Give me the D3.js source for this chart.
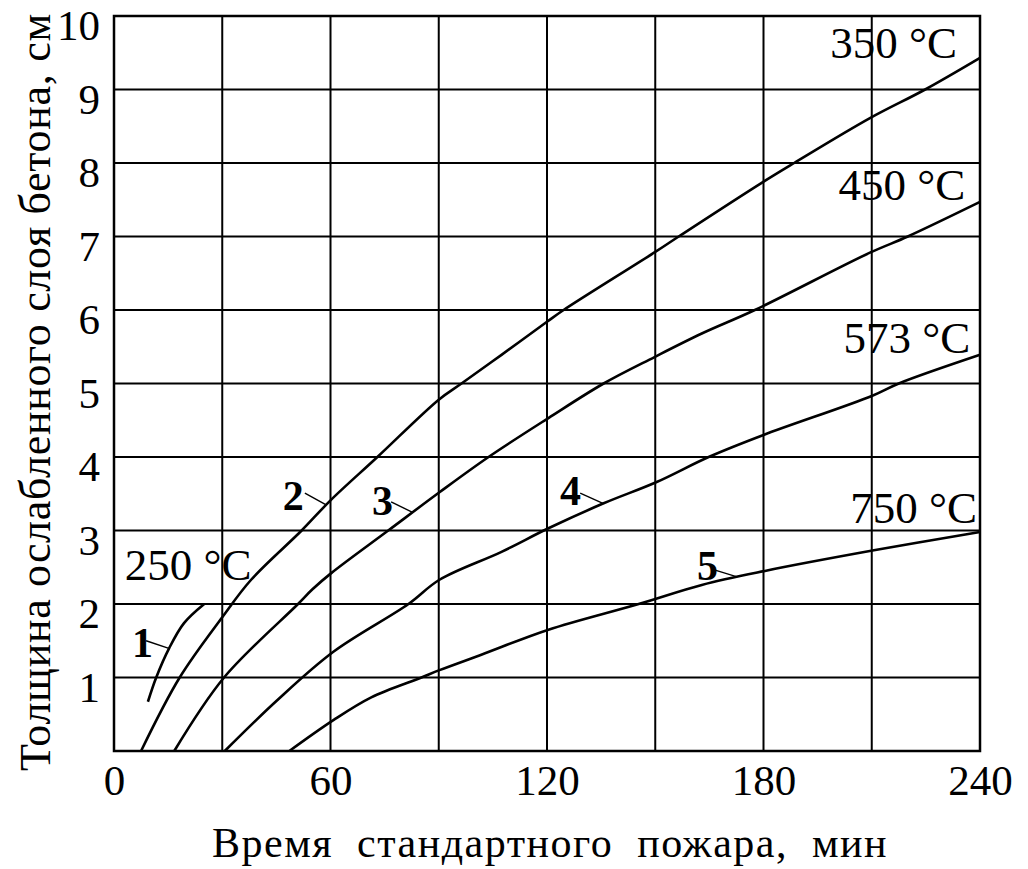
<!DOCTYPE html>
<html><head><meta charset="utf-8">
<script src="https://cdn.jsdelivr.net/npm/d3@7"></script>
<style>body{margin:0;background:#fff}svg{display:block}text{font-family:"Liberation Serif","Times New Roman",serif;fill:#000}</style>
</head><body>
<svg id="c" width="1028" height="869"></svg>
<script>
// ---- data ----
const xTicks = [0, 60, 120, 180, 240];
const xGrid = [0, 30, 60, 90, 120, 150, 180, 210, 240];
const yTicks = [1, 2, 3, 4, 5, 6, 7, 8, 9, 10];
const curveNames = ["1", "2", "3", "4", "5"];
const tempLabels = ["250 °C", "350 °C", "450 °C", "573 °C", "750 °C"];
const curve1 = [[9.4,0.67],[11.7,1.0],[15.3,1.4],[19.4,1.74],[25,2.0]];
const curve2 = [[7.5,0],[18.2,1.0],[30,1.82],[38,2.33],[52,3.0],[60,3.41],[73,4.0],[90,4.78],[96.3,5.0],[107.4,5.39],[120,5.84],[124.6,6.0],[150,6.79],[156.5,7.0],[179.5,7.73],[188.5,8.0],[209.5,8.61],[224.8,9.0],[240,9.43]];
const curve3 = [[16.7,0],[30.5,1.0],[51,2.0],[55,2.2],[60.2,2.42],[76,3.0],[90.2,3.52],[103.8,4.0],[120.4,4.53],[135.7,5.0],[149.8,5.36],[162.9,5.68],[177.6,6.0],[209.5,6.78],[220,7.0],[240,7.47]];
const curve4 = [[30.7,0],[45,0.68],[60.8,1.35],[81.6,2.0],[90.2,2.33],[107.4,2.71],[120.4,3.03],[135.7,3.37],[150.4,3.66],[164.8,4.0],[180,4.3],[210,4.83],[217.5,5.0],[240,5.39]];
const curve5 = [[48.6,0],[60.8,0.42],[71.3,0.73],[85.2,1.0],[90.2,1.10],[101.8,1.31],[120.4,1.65],[145.4,2.0],[162.9,2.26],[180.4,2.45],[210.6,2.73],[240,2.98]];
const curves = [curve1, curve2, curve3, curve4, curve5];
// annotation anchors in data units: [text t, text v, leader from t, v, leader to t, v]
const numberAnchors = [[5.0,1.28,8.9,1.50,15.0,1.40],[46.8,3.28,52.9,3.51,58.8,3.35],[71.5,3.21,76.8,3.39,82.6,3.25],[123.6,3.35,129.2,3.51,135.5,3.37],[161.6,2.33,166.6,2.46,172.7,2.37]];
// temperature label anchors in data units: [t, v, anchor]
const tempAnchors = [[3.0,2.33,"start"],[233.6,9.43,"end"],[235.9,7.50,"end"],[237.3,5.41,"end"],[239.2,3.10,"end"]];
const xTitle = "Время  стандартного  пожара,  мин";
const yTitle = "Толщина ослабленного слоя бетона, см";

// ---- chart ----
const svg = d3.select("#c");
const L = 114, R = 980, T = 16, B = 751;
const x = d3.scaleLinear().domain([0, 240]).range([L, R]);
const y = d3.scaleLinear().domain([0, 10]).range([B, T]);

const g = svg.append("g");
// grid
g.selectAll("line.v").data(xGrid).join("line").attr("class","v")
  .attr("x1", d => x(d)).attr("x2", d => x(d)).attr("y1", T).attr("y2", B)
  .attr("stroke", "#000").attr("stroke-width", 2);
g.selectAll("line.h").data(yTicks).join("line").attr("class","h")
  .attr("y1", d => y(d)).attr("y2", d => y(d)).attr("x1", L).attr("x2", R)
  .attr("stroke", "#000").attr("stroke-width", 2);
g.append("rect").attr("x", L).attr("y", T).attr("width", R - L).attr("height", B - T)
  .attr("fill", "none").attr("stroke", "#000").attr("stroke-width", 2.5);

// axes (labels only)
const xAxis = d3.axisBottom(x).tickValues(xTicks).tickSize(0).tickPadding(0).tickFormat(d3.format("d"));
const gx = svg.append("g").attr("transform", `translate(0,${B})`).call(xAxis);
gx.select(".domain").remove();
gx.selectAll("text").attr("y", 44).attr("dy", 0).style("font-size", "43px").style("font-family", "Liberation Serif");

const yAxis = d3.axisLeft(y).tickValues(yTicks).tickSize(0).tickPadding(14).tickFormat(d3.format("d"));
const gy = svg.append("g").attr("transform", `translate(${L},0)`).call(yAxis);
gy.select(".domain").remove();
gy.selectAll("text").attr("dy", "0.55em").style("font-size", "43px").style("font-family", "Liberation Serif");

// curves
const line = d3.line().x(d => x(d[0])).y(d => y(d[1])).curve(d3.curveCatmullRom.alpha(0.5));
svg.selectAll("path.curve").data(curves).join("path").attr("class","curve")
  .attr("d", line).attr("fill", "none").attr("stroke", "#000").attr("stroke-width", 2.6);

// temperature labels
svg.selectAll("text.temp").data(tempLabels).join("text").attr("class","temp")
  .attr("x", (d, i) => x(tempAnchors[i][0])).attr("y", (d, i) => y(tempAnchors[i][1]))
  .attr("text-anchor", (d, i) => tempAnchors[i][2])
  .style("font-size", "45px").text(d => d);

// curve numbers with leaders
svg.selectAll("line.leader").data(numberAnchors).join("line").attr("class","leader")
  .attr("x1", d => x(d[2])).attr("y1", d => y(d[3])).attr("x2", d => x(d[4])).attr("y2", d => y(d[5]))
  .attr("stroke", "#000").attr("stroke-width", 1.4);
svg.selectAll("text.num").data(curveNames).join("text").attr("class","num")
  .attr("x", (d, i) => x(numberAnchors[i][0])).attr("y", (d, i) => y(numberAnchors[i][1]))
  .style("font-size", "42px").style("font-weight", "bold").text(d => d);

// titles
svg.append("text").attr("x", (215 + 885) / 2).attr("y", 857).attr("text-anchor", "middle")
  .style("font-size", "42px").style("letter-spacing", "1.5px").style("white-space", "pre")
  .attr("xml:space", "preserve").text(xTitle);
svg.append("text").attr("transform", `translate(50,${(772 + 12) / 2}) rotate(-90)`).attr("text-anchor", "middle")
  .style("font-size", "44px").style("letter-spacing", "0.7px").text(yTitle);
</script>
</body></html>
